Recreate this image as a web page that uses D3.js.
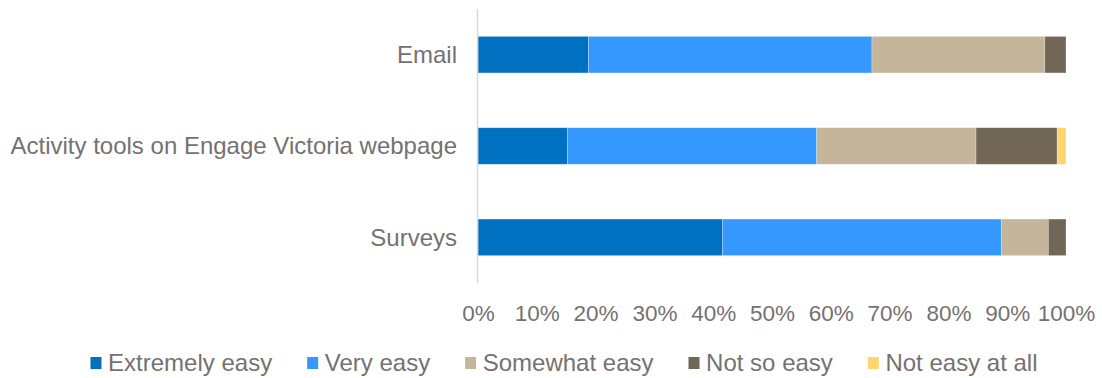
<!DOCTYPE html>
<html>
<head>
<meta charset="utf-8">
<script src="https://cdn.jsdelivr.net/npm/d3@7"></script>
<style>
  html, body { margin: 0; padding: 0; background: #fff; }
  svg text { font-family: "Liberation Sans", Arial, sans-serif; fill: #767171; }
</style>
</head>
<body>
<svg id="chart" width="1102" height="378"></svg>
<script>
// Channels, top to bottom
const categories = ["Email", "Activity tools on Engage Victoria webpage", "Surveys"];
// Response levels (stack order, left to right)
const levels = ["Extremely easy", "Very easy", "Somewhat easy", "Not so easy", "Not easy at all"];
// Share of respondents per level, one array per level, aligned with categories
const extremelyEasy = [18.8, 15.2, 41.6];
const veryEasy      = [48.2, 42.4, 47.4];
const somewhatEasy  = [29.4, 27.1, 8.0];
const notSoEasy     = [3.6, 13.8, 3.0];
const notEasyAtAll  = [0.0, 1.5, 0.0];
const tickValues = [0, 10, 20, 30, 40, 50, 60, 70, 80, 90, 100];

const colors = ["#0070C0", "#3598FF", "#C4B59B", "#726656", "#FFD56F"];
const seriesValues = [extremelyEasy, veryEasy, somewhatEasy, notSoEasy, notEasyAtAll];

const rows = categories.map((c, i) => {
  const r = { category: c };
  levels.forEach((l, j) => r[l] = seriesValues[j][i]);
  return r;
});
const stacked = d3.stack().keys(levels)(rows);

const svg = d3.select("#chart");
const plot = { left: 478, right: 1066, top: 9, bottom: 283 };

const x = d3.scaleLinear().domain([0, 100]).range([plot.left, plot.right]);
const y = d3.scaleBand().domain(categories).range([plot.top, plot.bottom])
  .paddingInner(0.6).paddingOuter(0.3);
const color = d3.scaleOrdinal().domain(levels).range(colors);

// Stacked bars
svg.append("g").selectAll("g")
  .data(stacked).join("g")
  .attr("fill", d => color(d.key))
  .selectAll("rect")
  .data(d => d).join("rect")
  .attr("x", d => x(d[0]))
  .attr("y", d => y(d.data.category))
  .attr("width", d => Math.max(0, x(d[1]) - x(d[0])))
  .attr("height", y.bandwidth())
  .attr("stroke", "#ffffff")
  .attr("stroke-opacity", 0.35)
  .attr("stroke-width", 0.75);

// Vertical category axis line
svg.append("line")
  .attr("x1", plot.left - 0.5).attr("x2", plot.left - 0.5)
  .attr("y1", plot.top).attr("y2", plot.bottom)
  .attr("stroke", "#D9D9D9").attr("stroke-width", 1.5);

// Category labels
svg.append("g").selectAll("text")
  .data(categories).join("text")
  .attr("x", plot.left - 21)
  .attr("y", d => y(d) + y.bandwidth() / 2)
  .attr("dy", "0.35em")
  .attr("text-anchor", "end")
  .attr("font-size", 24)
  .text(d => d);

// Percentage axis
const xAxis = d3.axisBottom(x).tickValues(tickValues)
  .tickFormat(d => d + "%").tickSize(0).tickPadding(0);
const gx = svg.append("g")
  .attr("transform", `translate(0,${plot.bottom + 30})`)
  .call(xAxis);
gx.select(".domain").remove();
gx.selectAll("text")
  .attr("font-size", 22.5)
  .attr("dy", "0.35em")
  .attr("y", 0)
  .style("font-family", '"Liberation Sans", Arial, sans-serif')
  .attr("fill", "#767171");

// Legend
const legend = svg.append("g");
const items = legend.selectAll("g").data(levels).join("g");
items.append("rect")
  .attr("width", 11).attr("height", 12)
  .attr("y", -6)
  .attr("fill", d => color(d));
items.append("text")
  .attr("x", 17.6).attr("dy", "0.35em")
  .attr("font-size", 24)
  .text(d => d);
const gap = 35;
const widths = [];
items.each(function () {
  widths.push(17.6 + this.querySelector("text").getComputedTextLength());
});
const total = d3.sum(widths) + gap * (levels.length - 1);
let cursor = 564 - total / 2;
items.attr("transform", (d, i) => {
  const t = `translate(${cursor},${363})`;
  cursor += widths[i] + gap;
  return t;
});
</script>
</body>
</html>
